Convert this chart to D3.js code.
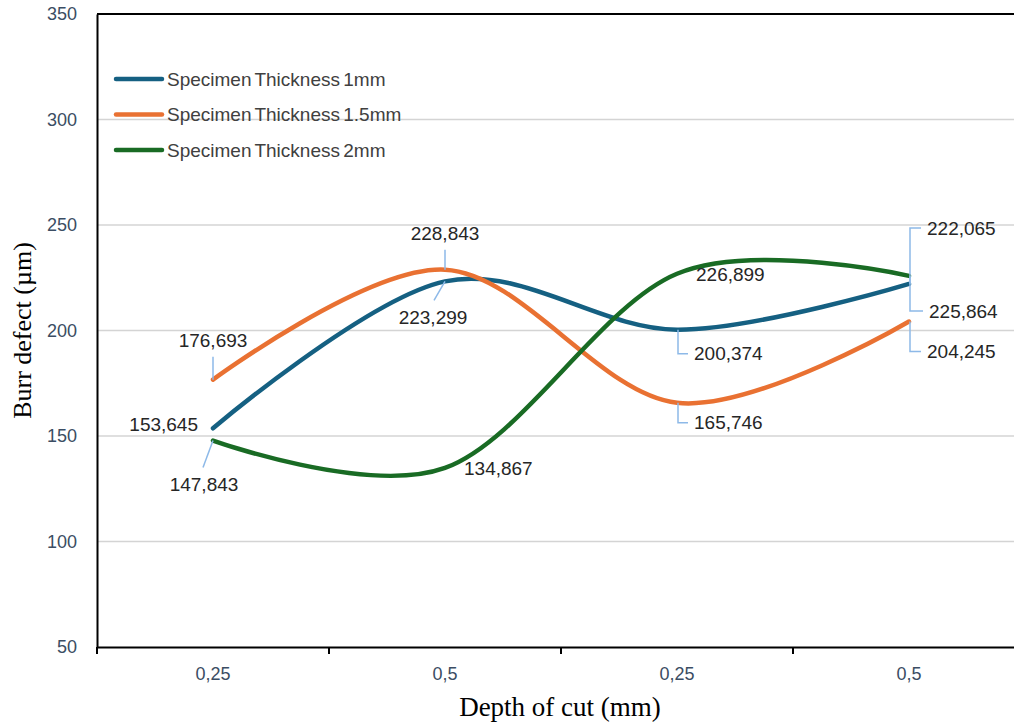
<!DOCTYPE html>
<html>
<head>
<meta charset="utf-8">
<script src="https://cdn.jsdelivr.net/npm/d3@7"></script>
<style>
  html, body { margin: 0; padding: 0; background: #ffffff; }
  svg { display: block; }
</style>
</head>
<body>
<div id="chart"></div>
<script>
// ---------- data ----------
const categories = ["0,25", "0,5", "0,25", "0,5"];
const seriesNames = ["Specimen Thickness 1mm", "Specimen Thickness 1.5mm", "Specimen Thickness 2mm"];
const thickness1mm = [153.645, 223.299, 200.374, 222.065];
const thickness15mm = [176.693, 228.843, 165.746, 204.245];
const thickness2mm = [147.843, 134.867, 226.899, 225.864];
const yTicks = [50, 100, 150, 200, 250, 300, 350];
const seriesColors = ["#156082", "#E97132", "#196B24"];

// label placement (pixel offsets from the point; layout only)
const labelLayout = [
  [ {dx: -15, dy: -4, anchor: "end", kind: "plain"},
    {dx: -12, dy: 36, anchor: "middle", kind: "line", lx: -11, ly: 19},
    {dx: 17, dy: 24, anchor: "start", kind: "elbow"},
    {dx: 18, dy: -56, anchor: "start", kind: "elbow"} ],
  [ {dx: 0, dy: -39, anchor: "middle", kind: "line", lx: 0, ly: -23},
    {dx: 0, dy: -36, anchor: "middle", kind: "line", lx: 0, ly: -20},
    {dx: 17, dy: 20, anchor: "start", kind: "elbow"},
    {dx: 18, dy: 30, anchor: "start", kind: "elbow"} ],
  [ {dx: -9, dy: 44, anchor: "middle", kind: "line", lx: -10, ly: 27},
    {dx: 19, dy: 0, anchor: "start", kind: "plain"},
    {dx: 19, dy: 1, anchor: "start", kind: "plain"},
    {dx: 20, dy: 35, anchor: "start", kind: "elbow"} ]
];

const allSeries = [thickness1mm, thickness15mm, thickness2mm];

(function () {
// ---------- layout ----------
const W = 1014, H = 726;
const mLeft = 97, mRight = 1025, mTop = 14, mBottom = 647;

const svg = d3.select("#chart").append("svg")
  .attr("width", W).attr("height", H);

const x = d3.scaleBand().domain(d3.range(categories.length)).range([mLeft, mRight]).padding(0);
const xc = i => x(i) + x.bandwidth() / 2;
const y = d3.scaleLinear().domain([50, 350]).range([mBottom, mTop]);

// gridlines
svg.append("g")
  .selectAll("line")
  .data(yTicks.filter(t => t > 50 && t < 350))
  .join("line")
  .attr("x1", mLeft).attr("x2", W)
  .attr("y1", d => y(d)).attr("y2", d => y(d))
  .attr("stroke", "#d4d4d4").attr("stroke-width", 1.5);

// top border
svg.append("line")
  .attr("x1", mLeft).attr("x2", W)
  .attr("y1", y(350)).attr("y2", y(350))
  .attr("stroke", "#000").attr("stroke-width", 2);

// y axis
const yAxis = d3.axisLeft(y).tickValues(yTicks).tickSize(0).tickPadding(20);
const gy = svg.append("g").attr("transform", `translate(${mLeft},0)`).call(yAxis);
gy.select(".domain").attr("stroke", "#000").attr("stroke-width", 2);
gy.selectAll("text")
  .attr("font-family", "'Liberation Sans', Arial, sans-serif")
  .attr("font-size", 18).attr("fill", "#3b4d63");

// x axis
const xAxis = d3.axisBottom(x).tickSize(0).tickFormat(i => categories[i]).tickPadding(20);
const gx = svg.append("g").attr("transform", `translate(0,${mBottom})`).call(xAxis);
gx.select(".domain").attr("stroke", "#000").attr("stroke-width", 2);
gx.selectAll("text")
  .attr("font-family", "'Liberation Sans', Arial, sans-serif")
  .attr("font-size", 18).attr("fill", "#3b4d63");
svg.append("g").selectAll("line")
  .data(d3.range(categories.length))
  .join("line")
  .attr("x1", i => x(i)).attr("x2", i => x(i))
  .attr("y1", mBottom).attr("y2", mBottom + 7)
  .attr("stroke", "#000").attr("stroke-width", 2);

// axis titles
svg.append("text")
  .attr("transform", `translate(31,${(mTop + mBottom) / 2}) rotate(-90)`)
  .attr("text-anchor", "middle")
  .attr("font-family", "'Liberation Serif', 'Times New Roman', serif")
  .attr("font-size", 26).attr("fill", "#000")
  .text("Burr defect (µm)");
svg.append("text")
  .attr("x", 560).attr("y", 716)
  .attr("text-anchor", "middle")
  .attr("font-family", "'Liberation Serif', 'Times New Roman', serif")
  .attr("font-size", 27).attr("fill", "#000")
  .text("Depth of cut (mm)");

// lines
const line = d3.line()
  .x((d, i) => xc(i))
  .y(d => y(d))
  .curve(d3.curveCardinal.tension(0));

svg.append("g").selectAll("path")
  .data(allSeries)
  .join("path")
  .attr("d", d => line(d))
  .attr("fill", "none")
  .attr("stroke", (d, i) => seriesColors[i])
  .attr("stroke-width", 4.5)
  .attr("stroke-linecap", "round")
  .attr("stroke-linejoin", "round");

// data labels
const fmt = v => d3.format(".3f")(v).replace(".", ",");
const lblG = svg.append("g");
allSeries.forEach((vals, s) => {
  vals.forEach((v, i) => {
    const L = labelLayout[s][i];
    const px = xc(i), py = y(v);
    const tx = px + L.dx, ty = py + L.dy;
    if (L.kind === "line") {
      lblG.append("line")
        .attr("x1", px).attr("y1", py)
        .attr("x2", px + L.lx).attr("y2", py + L.ly)
        .attr("stroke", "#8DB9E8").attr("stroke-width", 1.5);
    } else if (L.kind === "elbow") {
      lblG.append("polyline")
        .attr("points", `${px + 1},${py} ${px + 1},${ty} ${tx - 6},${ty}`)
        .attr("fill", "none")
        .attr("stroke", "#8DB9E8").attr("stroke-width", 1.5);
    }
    lblG.append("text")
      .attr("x", tx).attr("y", ty)
      .attr("dy", "0.35em")
      .attr("text-anchor", L.anchor)
      .attr("font-family", "'Liberation Sans', Arial, sans-serif")
      .attr("font-size", 19).attr("fill", "#262626")
      .text(fmt(v));
  });
});

// legend
const lg = svg.append("g");
seriesNames.forEach((name, i) => {
  const ly = 79 + i * 35.5;
  lg.append("line")
    .attr("x1", 116).attr("x2", 162)
    .attr("y1", ly).attr("y2", ly)
    .attr("stroke", seriesColors[i]).attr("stroke-width", 4.5)
    .attr("stroke-linecap", "round");
  lg.append("text")
    .attr("x", 167).attr("y", ly).attr("dy", "0.35em")
    .attr("font-family", "'Liberation Sans', Arial, sans-serif")
    .attr("font-size", 19).attr("fill", "#404040")
    .attr("word-spacing", -2)
    .text(name);
});
})();
</script>
</body>
</html>
